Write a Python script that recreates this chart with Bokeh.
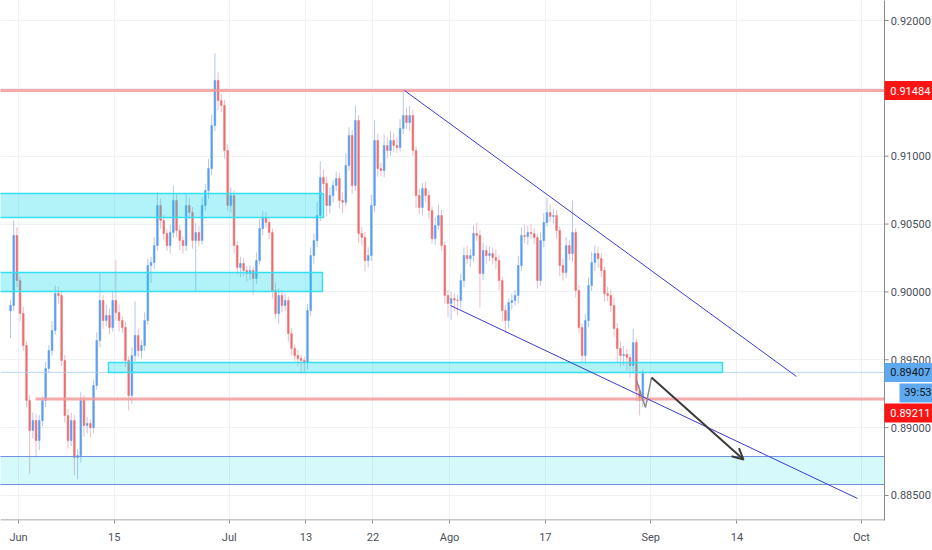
from bokeh.plotting import figure
from bokeh.models import Range1d, FixedTicker, Arrow, OpenHead, ColumnDataSource, Grid
from bokeh.embed import file_html
from bokeh.resources import INLINE
from bokeh.core.properties import value

# ---------------- data (prices in 1e-5 units) ----------------
first_open = 89860
close = [
    89900, 90416, 90084, 89841, 89605, 89200, 88979, 89052, 88905, 89052,
    89200, 89436, 89568, 89716, 89988, 89974, 89495, 89089, 88905, 89052,
    88780, 88794, 89200, 89016, 89030, 89000, 89310, 89642, 89937, 89789,
    89826, 89738, 89937, 89848, 89789, 89738, 89495, 89237, 89531, 89679,
    89568, 89605, 89789, 90195, 90217, 90342, 90637, 90526, 90430, 90342,
    90438, 90674, 90453, 90379, 90342, 90637, 90585, 90379, 90438, 90379,
    90637, 90747, 90909, 91226, 91558, 91410, 91374, 91042, 90637, 90710,
    90342, 90180, 90209, 90158, 90136, 90158, 90099, 90231, 90467, 90548,
    90512, 90438, 90010, 89841, 89974, 89900, 89937, 89693, 89583, 89531,
    89509, 89495, 89480, 89863, 90268, 90379, 90563, 90843, 90799, 90637,
    90710, 90784, 90836, 90674, 90660, 90932, 91153, 90784, 91263, 90430,
    90401, 90231, 90268, 90637, 91116, 90909, 90895, 91079, 91042, 91116,
    91079, 91064, 91204, 91300, 91248, 91300, 91042, 90710, 90622, 90762,
    90710, 90600, 90394, 90489, 90563, 90342, 89974, 89915, 89951, 89940,
    89937, 90084, 90268, 90246, 90268, 90430, 90416, 90136, 90305, 90268,
    90283, 90254, 90231, 90084, 89863, 89789, 89922, 89937, 89974, 90195,
    90416, 90408, 90438, 90430, 90401, 90084, 90379, 90512, 90585, 90556,
    90563, 90453, 90195, 90143, 90342, 90283, 90438, 90010, 89738, 89531,
    89789, 90047, 90217, 90283, 90246, 90158, 89988, 89974, 89900, 89730,
    89583, 89531, 89540, 89517, 89458, 89627, 89273, 89200, 89407,
]
wick_up = [
    40, 110, 60, 30, 50, 30, 40, 60, 50, 40,
    30, 50, 40, 70, 60, 50, 30, 40, 50, 60,
    40, 50, 60, 40, 50, 30, 40, 60, 200, 40,
    80, 50, 70, 300, 60, 30, 40, 30, 60, 250,
    50, 40, 60, 50, 40, 60, 100, 50, 40, 30,
    60, 110, 50, 40, 30, 90, 60, 40, 70, 50,
    60, 50, 70, 80, 200, 60, 50, 40, 50, 60,
    40, 30, 50, 40, 30, 40, 30, 60, 70, 50,
    40, 30, 30, 60, 50, 40, 50, 30, 40, 30,
    40, 30, 30, 50, 60, 50, 100, 120, 60, 50,
    60, 40, 50, 40, 60, 90, 60, 40, 110, 40,
    50, 40, 60, 80, 150, 50, 40, 80, 60, 70,
    50, 60, 70, 184, 60, 70, 40, 30, 50, 40,
    50, 40, 30, 60, 80, 40, 30, 40, 50, 40,
    40, 50, 60, 70, 50, 60, 80, 40, 60, 40,
    50, 40, 60, 40, 30, 40, 30, 50, 40, 70,
    60, 80, 50, 60, 40, 30, 60, 70, 110, 60,
    50, 40, 30, 50, 60, 40, 236, 30, 40, 30,
    50, 60, 80, 60, 50, 40, 30, 50, 40, 60,
    40, 50, 60, 40, 30, 100, 30, 40, 20,
]
wick_dn = [
    200, 40, 50, 60, 40, 50, 320, 60, 125, 70,
    40, 50, 30, 40, 30, 60, 40, 50, 60, 40,
    130, 160, 50, 80, 60, 70, 40, 30, 50, 60,
    40, 50, 30, 60, 80, 40, 50, 110, 60, 40,
    50, 60, 40, 30, 130, 50, 40, 60, 50, 40,
    60, 40, 50, 70, 60, 40, 50, 60, 370, 40,
    30, 40, 60, 50, 40, 70, 50, 60, 40, 50,
    60, 50, 70, 40, 60, 50, 120, 40, 30, 50,
    40, 50, 60, 40, 80, 50, 40, 60, 50, 40,
    60, 100, 80, 50, 40, 60, 50, 40, 60, 80,
    60, 50, 40, 60, 80, 30, 40, 60, 40, 70,
    60, 80, 50, 40, 50, 60, 40, 50, 60, 40,
    50, 40, 30, 40, 50, 60, 40, 90, 50, 60,
    50, 60, 40, 50, 30, 40, 60, 100, 120, 80,
    110, 60, 50, 40, 60, 50, 40, 250, 50, 60,
    40, 50, 60, 70, 80, 90, 60, 50, 40, 60,
    40, 50, 60, 40, 50, 60, 40, 50, 30, 40,
    50, 60, 80, 60, 40, 50, 60, 50, 40, 50,
    60, 50, 40, 60, 70, 50, 60, 40, 50, 60,
    100, 80, 70, 100, 90, 60, 80, 110, 50,
]
bars_per_day = 3
first_day = -1  # trading-day index of the first bar (Jun 1 = 0)

# x axis: trading-day index of the date labels
tick_days = [0, 10, 22, 30, 37, 45, 55, 66, 75, 88]
tick_labels = ["Jun", "15", "Jul", "13", "22", "Ago", "17", "Sep", "14", "Oct"]
price_ticks = [0.885, 0.890, 0.895, 0.900, 0.905, 0.910, 0.915, 0.920]
hidden_price_labels = [0.915]  # covered by the 0.91484 tag

# drawings (trading-day index, price)
red_levels = [0.91484, 0.89211]
red_level_start = [-3, 1.77]
last_price = 0.89407
countdown = "39:53"
zone_left = [-3, -3, 9.39, -3]
zone_right = [31.84, 31.73, 73.49, 90.40]
zone_top = [0.90725, 0.90143, 0.89480, 0.88787]
zone_bottom = [0.90548, 0.90003, 0.89406, 0.88581]
upper_trend_days = [40.29, 81.21]
upper_trend_prices = [0.91484, 0.89377]
lower_trend_days = [45.09, 87.58]
lower_trend_prices = [0.89900, 0.88478]
zigzag_days = [64.51, 65.45, 66.08]
zigzag_prices = [0.89347, 0.89148, 0.89369]
arrow_days = [66.08, 75.68]
arrow_prices = [0.89369, 0.88765]

# ---------------- build candles ----------------
opens = [first_open] + close[:-1]
xs, o, c, h, l, body_col, wick_col = [], [], [], [], [], [], []
for i, (op, cl, wu, wd) in enumerate(zip(opens, close, wick_up, wick_dn)):
    xs.append(first_day + (i + 0.5) / bars_per_day)
    o.append(op / 1e5)
    c.append(cl / 1e5)
    h.append((max(op, cl) + wu) / 1e5)
    l.append((min(op, cl) - wd) / 1e5)
    up = cl >= op
    body_col.append("#5c9ef0" if up else "#ec7070")
    wick_col.append("#b3c7f0" if up else "#efbcc4")
src = ColumnDataSource(dict(x=xs, o=o, c=c, h=h, l=l, bc=body_col, wc=wick_col))

FONT = "Roboto"
X0, X1 = -1.879, 95.41          # whole width, price scale area included
Y0, Y1 = 0.883157, 0.921474
FRAME_H = 520
ppx = (Y1 - Y0) / FRAME_H       # price per pixel
AX = 90.40                      # price-scale edge
TICK_END = 90.82
TXT = 91.06
TAG_C = 92.90

p = figure(width=932, height=550, x_range=Range1d(X0, X1), y_range=Range1d(Y0, Y1),
           y_axis_location=None, toolbar_location=None, output_backend="svg",
           min_border_left=0, min_border_top=0, min_border_right=0,
           min_border_bottom=30)
p.outline_line_color = None
p.background_fill_color = "white"

# grid
p.xgrid.ticker = FixedTicker(ticks=tick_days)
p.xgrid.grid_line_color = "#eef1f6"
p.add_layout(Grid(dimension=1, ticker=FixedTicker(ticks=price_ticks),
                  grid_line_color="#eef1f6"))

# time axis
ax = p.xaxis[0]
ax.ticker = FixedTicker(ticks=tick_days)
ax.major_label_overrides = {d: t for d, t in zip(tick_days, tick_labels)}
ax.axis_line_color = None
ax.major_tick_line_color = "#8a8a8a"
ax.minor_tick_line_color = None
ax.major_tick_in = 0
ax.major_tick_out = 3
ax.major_label_text_font = FONT
ax.major_label_text_font_size = "11px"
ax.major_label_text_color = "#4a4f5a"
ax.major_label_standoff = 7

# candles
p.segment(x0="x", y0="l", x1="x", y1="h", color="wc", line_width=1, source=src)
p.vbar(x="x", width=0.18, top="o", bottom="c", fill_color="bc", line_color="bc",
       line_width=0.5, source=src)

# last price line
p.line([X0, AX], [last_price, last_price], line_color="#a9cdf2", line_width=1,
       line_alpha=0.8)

# zones
p.quad(left=zone_left[:3], right=zone_right[:3], top=zone_top[:3],
       bottom=zone_bottom[:3], fill_color="#00d8ef", fill_alpha=0.3,
       line_color="#33e0f2", line_width=1.5)
p.quad(left=zone_left[3:], right=zone_right[3:], top=zone_top[3:],
       bottom=zone_bottom[3:], fill_color="#00d8ef", fill_alpha=0.16,
       line_color="#6f8fe6", line_width=1)

# red horizontal levels
for lv, st in zip(red_levels, red_level_start):
    p.line([st, AX], [lv, lv], line_color="#f59a9a", line_width=3, line_alpha=0.85)

# trend lines
p.line(upper_trend_days, upper_trend_prices, line_color="#3b3bd0", line_width=1)
p.line(lower_trend_days, lower_trend_prices, line_color="#3b3bd0", line_width=1)

# projected path
p.line(zigzag_days, zigzag_prices, line_color="#8c8c8c", line_width=1.5)
p.add_layout(Arrow(end=OpenHead(size=11, line_color="#3a3a3a", line_width=2),
                   x_start=arrow_days[0], y_start=arrow_prices[0],
                   x_end=arrow_days[1], y_end=arrow_prices[1],
                   line_color="#3a3a3a", line_width=2))

# ---------------- price scale ----------------
p.quad(left=[AX], right=[X1 + 1], bottom=[Y0 - 0.01], top=[Y1 + 0.01],
       fill_color="white", line_color=None)
p.line([AX, AX], [Y0 - 0.01, Y1 + 0.01], line_color="#8a8a8a", line_width=1)
# time-axis baseline, stopping at the price scale
p.line([X0, AX], [Y0 + 0.5 * ppx, Y0 + 0.5 * ppx], line_color="#8a8a8a", line_width=1)
p.segment(x0=[AX] * len(price_ticks), x1=[TICK_END] * len(price_ticks),
          y0=price_ticks, y1=price_ticks, line_color="#8a8a8a", line_width=1)
shown = [t for t in price_ticks if t not in hidden_price_labels]
p.text(x=[TXT] * len(shown), y=shown, text=[f"{t:.5f}" for t in shown],
       text_font=value(FONT), text_font_size="11px", text_color="#4a4f5a",
       text_baseline="middle", text_align="left")

# price tags
tag_y = [red_levels[0], last_price, last_price - 20.5 * ppx, red_levels[1] - 14 * ppx]
tag_x = [TAG_C, TAG_C, 93.69, TAG_C]
tag_w = [48, 48, 33, 48]
tag_bg = ["#fa1414", "#5ea9ef", "#5ea9ef", "#fa1414"]
tag_fg = ["white", "#131722", "#131722", "white"]
tag_txt = [f"{red_levels[0]:.5f}", f"{last_price:.5f}", countdown, f"{red_levels[1]:.5f}"]
tag_txt_x = [TXT - 0.05, TXT - 0.05, 92.45, TXT - 0.05]
p.rect(x=tag_x, y=tag_y, width=tag_w, height=19, width_units="screen",
       height_units="screen", fill_color=tag_bg, line_color=None)
p.text(x=tag_txt_x, y=tag_y, text=tag_txt, text_color=tag_fg,
       text_font=value(FONT), text_font_size="11px", text_baseline="middle",
       text_align="left")

open("out.html", "w").write(file_html(p, INLINE))
